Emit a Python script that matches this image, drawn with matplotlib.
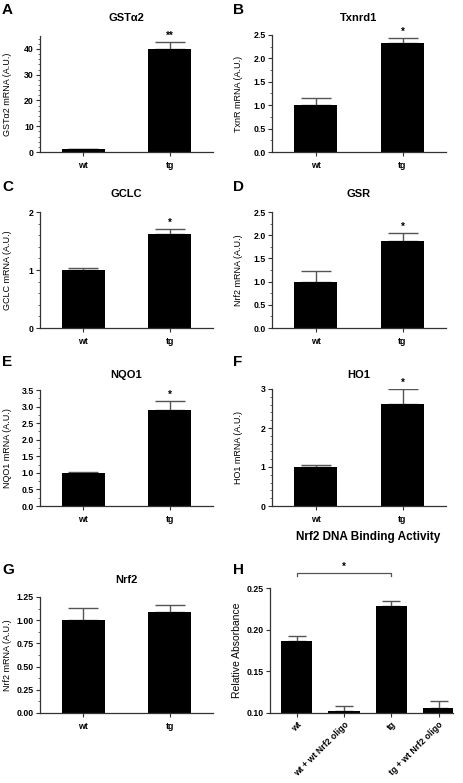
import numpy as np
import matplotlib
matplotlib.use('Agg')
import matplotlib.pyplot as plt
from matplotlib.ticker import MultipleLocator, AutoMinorLocator, FormatStrFormatter

plt.rcParams['font.family'] = ['Liberation Sans', 'DejaVu Sans']

# Données
genes = ['GSTα2', 'Txnrd1', 'GCLC', 'GSR', 'NQO1', 'HO1', 'Nrf2']
ylabels = ['GSTα2 mRNA (A.U.)', 'TxnR mRNA (A.U.)', 'GCLC mRNA (A.U.)',
           'Nrf2 mRNA (A.U.)', 'NQO1 mRNA (A.U.)', 'HO1 mRNA (A.U.)',
           'Nrf2 mRNA (A.U.)']
groups = ['wt', 'tg']
wt_vals = [1.0, 1.0, 1.0, 1.0, 1.0, 1.0, 1.0]
wt_err = [0.3, 0.15, 0.03, 0.22, 0.04, 0.06, 0.13]
tg_vals = [40.0, 2.32, 1.62, 1.88, 2.9, 2.62, 1.09]
tg_err = [2.6, 0.11, 0.09, 0.16, 0.27, 0.38, 0.07]
signif = ['**', '*', '*', '*', '*', '*', '']
ymax = [45, 2.5, 2.0, 2.5, 3.5, 3.0, 1.25]
ystep = [10, 0.5, 1, 0.5, 0.5, 1, 0.25]
yfmt = ['%d', '%.1f', '%d', '%.1f', '%.1f', '%d', '%.2f']
panel_letters = ['A', 'B', 'C', 'D', 'E', 'F', 'G']

h_groups = ['wt', 'wt + wt Nrf2 oligo', 'tg', 'tg + wt Nrf2 oligo']
h_vals = [0.186, 0.103, 0.228, 0.106]
h_err = [0.007, 0.005, 0.007, 0.009]

W, H = 463, 783
fig = plt.figure(figsize=(W / 100, H / 100), dpi=100)


def px_axes(l, r, t, b):
    return fig.add_axes([l / W, 1 - b / H, (r - l) / W, (b - t) / H])


def style(ax):
    for s in ['top', 'right']:
        ax.spines[s].set_visible(False)
    for s in ['left', 'bottom']:
        ax.spines[s].set_color('#333333')
        ax.spines[s].set_linewidth(0.9)
    ax.tick_params(axis='both', which='major', length=3, width=0.8, color='#333333',
                   labelsize=6.3)
    ax.tick_params(axis='y', which='major', pad=1.5)
    ax.tick_params(axis='x', which='major', pad=3.5)
    ax.tick_params(axis='y', which='minor', length=1.5, width=0.6, color='#555555')
    for lab in ax.get_xticklabels() + ax.get_yticklabels():
        lab.set_fontweight('bold')


# positions des panneaux (pixels: gauche, droite, haut, bas)
boxes = [(40, 213, 36, 152), (272, 446, 35, 152),
         (40, 213, 212, 328), (272, 446, 212, 328),
         (40, 213, 390, 506), (272, 446, 389, 506),
         (40, 213, 597, 713)]
title_y = [18, 18, 194, 194, 375, 375, 580]
letter_y = [10, 10, 187, 187, 362, 362, 570]

for i in range(7):
    l, r, t, b = boxes[i]
    ax = px_axes(l, r, t, b)
    x = np.arange(2)
    vals = [wt_vals[i], tg_vals[i]]
    errs = [wt_err[i], tg_err[i]]
    ax.bar(x, vals, width=0.5, color='black', zorder=2)
    ax.errorbar(x, vals, yerr=[np.zeros(2), errs], fmt='none', ecolor='#555555',
                elinewidth=1, capsize=11, capthick=1, zorder=1)
    ax.set_xlim(-0.5, 1.5)
    ax.set_ylim(0, ymax[i])
    ax.yaxis.set_major_locator(MultipleLocator(ystep[i]))
    ax.yaxis.set_minor_locator(AutoMinorLocator(5 if ystep[i] in (1, 10) else 2))
    ax.yaxis.set_major_formatter(FormatStrFormatter(yfmt[i]))
    ax.set_xticks(x)
    ax.set_xticklabels(groups)
    style(ax)
    ax.set_ylabel(ylabels[i], fontsize=6.5)
    lab_x = 12 if l < 100 else 243
    ax.yaxis.set_label_coords((lab_x - l) / (r - l), 0.5)
    if signif[i]:
        ax.annotate(signif[i], (1, vals[1] + errs[1]), xytext=(0, 1),
                    textcoords='offset points', ha='center', va='bottom',
                    fontsize=7, fontweight='bold')
    fig.text((l + r) / 2 / W, 1 - title_y[i] / H, genes[i], ha='center', va='center',
             fontsize=8, fontweight='bold')
    fig.text((2 if l < 100 else 233) / W, 1 - letter_y[i] / H, panel_letters[i],
             ha='left', va='center', fontsize=11, fontweight='bold')

# Panneau H
ax = px_axes(270, 453, 588, 713)
xh = np.arange(4)
ax.bar(xh, h_vals, width=0.66, color='black', zorder=2)
ax.errorbar(xh, h_vals, yerr=[np.zeros(4), h_err], fmt='none', ecolor='#555555',
            elinewidth=1, capsize=6.5, capthick=1, zorder=1)
ax.set_xlim(-0.56, 3.3)
ax.set_ylim(0.10, 0.25)
ax.yaxis.set_major_locator(MultipleLocator(0.05))
ax.yaxis.set_major_formatter(FormatStrFormatter('%.2f'))
ax.set_xticks(xh)
ax.set_xticklabels(h_groups, rotation=45, ha='right', rotation_mode='anchor')
style(ax)
ax.tick_params(axis='x', which='major', pad=2)
ax.set_ylabel('Relative Absorbance', fontsize=7.5)
ax.yaxis.set_label_coords((242 - 270) / (453 - 270), 0.5)
# crochet de significativité
ax.plot([0, 0, 2, 2], [0.2645, 0.268, 0.268, 0.2645], color='#555555', lw=0.9,
        clip_on=False)
ax.text(1, 0.2695, '*', ha='center', va='bottom', fontsize=7, fontweight='bold')
fig.text(368 / W, 1 - 537 / H, 'Nrf2 DNA Binding Activity', ha='center', va='center',
         fontsize=8.5, fontweight='bold')
fig.text(233 / W, 1 - 570 / H, 'H', ha='left', va='center', fontsize=11,
         fontweight='bold')

fig.savefig('out.png', dpi=100)
